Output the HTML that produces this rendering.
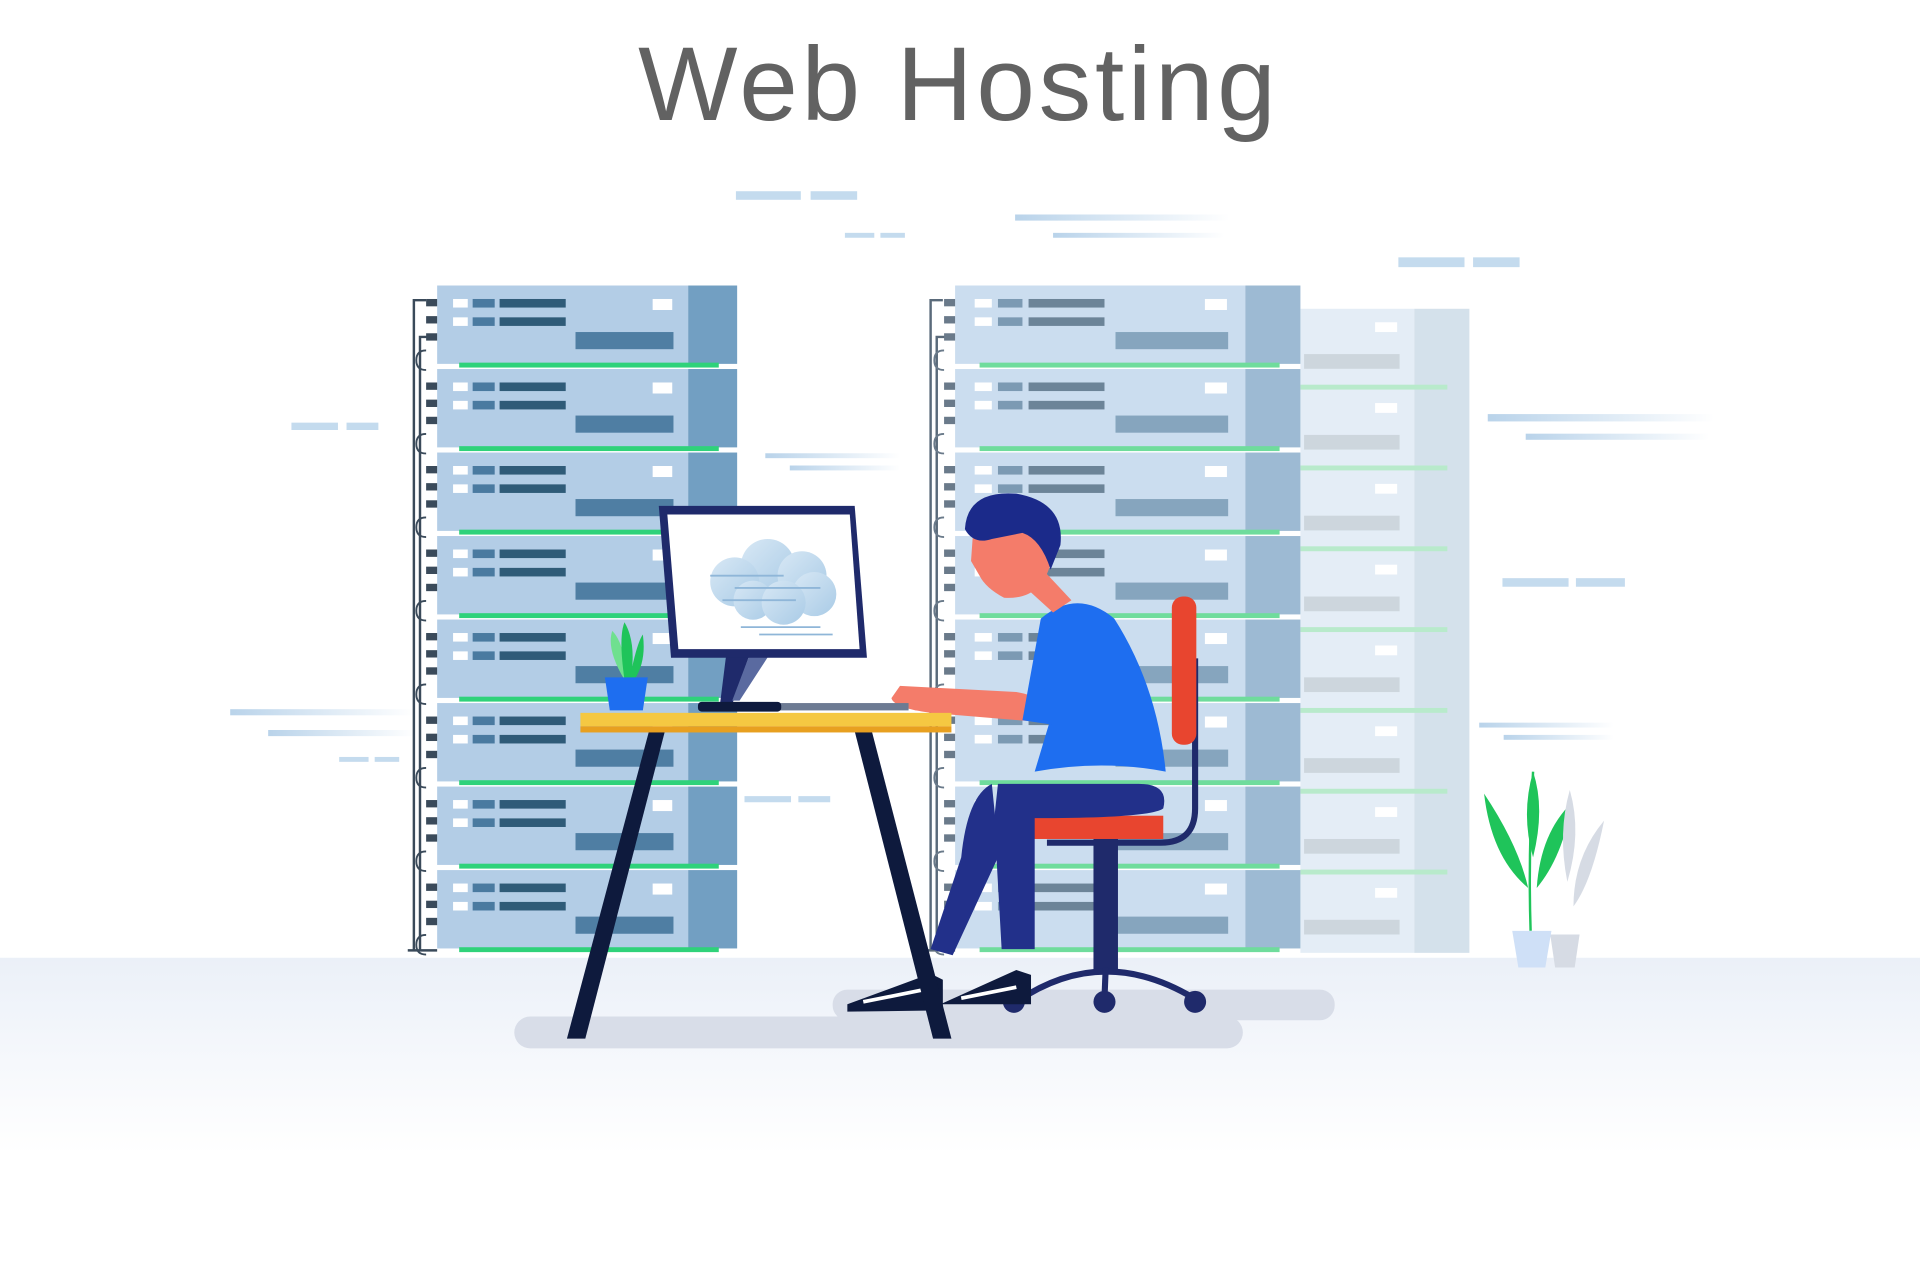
<!DOCTYPE html>
<html><head><meta charset="utf-8"><style>
html,body{margin:0;padding:0;background:#fff;}
svg{display:block;}
</style></head><body>
<svg width="1920" height="1280" viewBox="0 0 1568 1045" xmlns="http://www.w3.org/2000/svg">
<defs>
<linearGradient id="floor" x1="0" y1="0" x2="0" y2="1">
<stop offset="0" stop-color="#ebf0f8"/><stop offset="1" stop-color="#ffffff"/>
</linearGradient>
<linearGradient id="ln" x1="0" y1="0" x2="1" y2="0">
<stop offset="0" stop-color="#b9d3ea"/><stop offset="1" stop-color="#b9d3ea" stop-opacity="0"/>
</linearGradient>
<linearGradient id="cloud" x1="0" y1="0" x2="1" y2="1">
<stop offset="0" stop-color="#d8e8f5"/><stop offset="1" stop-color="#a9cbe6"/>
</linearGradient>
</defs>
<rect width="1568" height="1045" fill="#fff"/>
<rect x="0" y="782" width="1568" height="160" fill="url(#floor)"/>
<text x="783" y="98" text-anchor="middle" font-family="Liberation Sans, sans-serif" font-size="86" letter-spacing="3" fill="#626262">Web Hosting</text>

<!-- speed lines -->
<g fill="#c4dbee">
<rect x="601" y="156" width="53" height="7"/><rect x="662" y="156" width="38" height="7"/>
<rect x="690" y="190" width="24" height="4"/><rect x="719" y="190" width="20" height="4"/>
<rect x="238" y="345" width="38" height="6"/><rect x="283" y="345" width="26" height="6"/>
<rect x="1142" y="210" width="54" height="8"/><rect x="1203" y="210" width="38" height="8"/>
<rect x="1227" y="472" width="54" height="7"/><rect x="1287" y="472" width="40" height="7"/>
<rect x="608" y="650" width="38" height="5"/><rect x="652" y="650" width="26" height="5"/>
<rect x="277" y="618" width="24" height="4"/><rect x="306" y="618" width="20" height="4"/>
</g>
<g fill="url(#ln)">
<rect x="829" y="175" width="175" height="5"/><rect x="860" y="190" width="140" height="4"/>
<rect x="1215" y="338" width="185" height="6"/><rect x="1246" y="354" width="150" height="5"/>
<rect x="625" y="370" width="110" height="4"/><rect x="645" y="380" width="90" height="4"/>
<rect x="188" y="579" width="150" height="5"/><rect x="219" y="596" width="120" height="5"/>
<rect x="1208" y="590" width="110" height="4"/><rect x="1228" y="600" width="90" height="4"/>
</g>

<!-- background rack -->
<g>
<rect x="1062" y="252" width="93" height="526" fill="#e4edf6"/>
<rect x="1155" y="252" width="45" height="526" fill="#d4e1eb"/>
<g fill="#cdd6dd">
<rect x="1065" y="289" width="78" height="12"/><rect x="1065" y="355" width="78" height="12"/><rect x="1065" y="421" width="78" height="12"/><rect x="1065" y="487" width="78" height="12"/><rect x="1065" y="553" width="78" height="12"/><rect x="1065" y="619" width="78" height="12"/><rect x="1065" y="685" width="78" height="12"/><rect x="1065" y="751" width="78" height="12"/>
</g>
<g fill="#b8eacb">
<rect x="1062" y="314" width="120" height="4"/><rect x="1062" y="380" width="120" height="4"/><rect x="1062" y="446" width="120" height="4"/><rect x="1062" y="512" width="120" height="4"/><rect x="1062" y="578" width="120" height="4"/><rect x="1062" y="644" width="120" height="4"/><rect x="1062" y="710" width="120" height="4"/>
</g>
<g fill="#fff"><rect x="1123" y="263" width="18" height="8"/><rect x="1123" y="329" width="18" height="8"/><rect x="1123" y="395" width="18" height="8"/><rect x="1123" y="461" width="18" height="8"/><rect x="1123" y="527" width="18" height="8"/><rect x="1123" y="593" width="18" height="8"/><rect x="1123" y="659" width="18" height="8"/><rect x="1123" y="725" width="18" height="8"/></g>
</g>

<!-- left rack -->
<path d="M348 245 H338 V776 M352 275 H343 V776 M333 776 H357" stroke="#3a4a5a" stroke-width="2" fill="none"/>
<g id="lu">
<rect x="357" y="233" width="205" height="64" fill="#b3cde6"/>
<rect x="562" y="233" width="40" height="64" fill="#729fc2"/>
<rect x="375" y="296" width="212" height="4" fill="#2fd27a"/>
<rect x="370" y="244" width="12" height="7" fill="#fff"/><rect x="386" y="244" width="18" height="7" fill="#4a7aa0"/><rect x="408" y="244" width="54" height="7" fill="#2f5b78"/>
<rect x="370" y="259" width="12" height="7" fill="#fff"/><rect x="386" y="259" width="18" height="7" fill="#4a7aa0"/><rect x="408" y="259" width="54" height="7" fill="#2f5b78"/>
<rect x="533" y="244" width="16" height="9" fill="#fff"/>
<rect x="470" y="271" width="80" height="14" fill="#4f7ea3"/>
<rect x="348" y="244" width="9" height="6" fill="#3a4a5a"/><rect x="348" y="258" width="9" height="6" fill="#3a4a5a"/><rect x="348" y="272" width="9" height="6" fill="#3a4a5a"/>
<path d="M348 286 Q340 286 340 294 Q340 302 348 302" stroke="#3a4a5a" stroke-width="1.5" fill="none"/>
</g>
<use href="#lu" y="68.2"/><use href="#lu" y="136.4"/><use href="#lu" y="204.6"/><use href="#lu" y="272.8"/><use href="#lu" y="341"/><use href="#lu" y="409.2"/><use href="#lu" y="477.4"/>

<!-- right rack -->
<path d="M770 245 H760 V776 M774 275 H765 V776 M756 776 H780" stroke="#5a6a7a" stroke-width="2" fill="none"/>
<g id="ru">
<rect x="780" y="233" width="237" height="64" fill="#cbddef"/>
<rect x="1017" y="233" width="45" height="64" fill="#9dbad3"/>
<rect x="800" y="296" width="245" height="4" fill="#6fdc9c"/>
<rect x="796" y="244" width="14" height="7" fill="#fff"/><rect x="815" y="244" width="20" height="7" fill="#7c9ab3"/><rect x="840" y="244" width="62" height="7" fill="#6c8498"/>
<rect x="796" y="259" width="14" height="7" fill="#fff"/><rect x="815" y="259" width="20" height="7" fill="#7c9ab3"/><rect x="840" y="259" width="62" height="7" fill="#6c8498"/>
<rect x="984" y="244" width="18" height="9" fill="#fff"/>
<rect x="911" y="271" width="92" height="14" fill="#86a5be"/>
<rect x="771" y="244" width="9" height="6" fill="#6a7a8a"/><rect x="771" y="258" width="9" height="6" fill="#6a7a8a"/><rect x="771" y="272" width="9" height="6" fill="#6a7a8a"/>
<path d="M771 286 Q763 286 763 294 Q763 302 771 302" stroke="#6a7a8a" stroke-width="1.5" fill="none"/>
</g>
<use href="#ru" y="68.2"/><use href="#ru" y="136.4"/><use href="#ru" y="204.6"/><use href="#ru" y="272.8"/><use href="#ru" y="341"/><use href="#ru" y="409.2"/><use href="#ru" y="477.4"/>

<!-- shadows -->
<rect x="420" y="830" width="595" height="26" rx="13" fill="#d8dde8"/>
<rect x="680" y="808" width="410" height="25" rx="12" fill="#d8dde8"/>

<!-- chair -->
<path d="M958 540 H976 V660 Q976 688 948 688 H855" stroke="#1f2a6b" stroke-width="5" fill="none"/>
<rect x="957" y="487" width="20" height="121" rx="9" fill="#e8452f"/>
<rect x="840" y="666" width="110" height="19" fill="#e8452f"/>
<rect x="893" y="685" width="20" height="110" fill="#1f2a6b"/>
<path d="M830 818 Q900 770 975 815" stroke="#1f2a6b" stroke-width="5" fill="none"/>
<line x1="903" y1="790" x2="902" y2="815" stroke="#1f2a6b" stroke-width="5"/>
<circle cx="828" cy="818" r="9" fill="#1f2a6b"/><circle cx="902" cy="818" r="9" fill="#1f2a6b"/><circle cx="976" cy="818" r="9" fill="#1f2a6b"/>

<!-- person -->
<path d="M810 640 Q790 650 785 700 L760 775 L778 780 L815 700 L815 690 Z" fill="#22308a"/>
<path d="M815 640 H930 Q955 640 950 660 Q940 668 845 668 L845 775 H818 L812 668 Z" fill="#22308a"/>
<path d="M850 505 Q880 480 910 505 Q945 560 952 630 Q900 620 845 630 L860 580 L840 560 Z" fill="#1e6ef0"/>
<path d="M735 560 L830 565 Q860 570 855 590 L760 582 Q730 578 728 570 Z" fill="#f47c6a"/>
<path d="M840 560 L870 565 L862 592 L835 588 Z" fill="#1e6ef0"/>
<path d="M845 458 L875 490 L860 500 L838 480 Z" fill="#f47c6a"/>
<path d="M795 430 Q800 405 835 410 Q862 420 858 460 Q850 490 820 488 Q805 480 800 470 L793 458 Z" fill="#f47c6a"/>
<path d="M788 432 Q790 400 830 403 Q870 410 866 445 L858 465 Q850 440 835 435 L810 440 Q795 445 788 432 Z" fill="#1b2a8a"/>
<path d="M692 820 L760 795 L770 800 L770 825 L692 826 Z" fill="#0e1a3d"/>
<path d="M768 820 L830 792 L842 796 L842 820 Z" fill="#0e1a3d"/>
<path d="M705 818 L755 808" stroke="#fff" stroke-width="3"/><path d="M785 815 L830 806" stroke="#fff" stroke-width="3"/>

<!-- monitor -->
<rect x="636" y="574" width="106" height="6" fill="#6d7b93"/>
<polygon points="593,535 612,535 598,575 588,575" fill="#1f2a6b"/>
<polygon points="612,535 628,535 604,572 598,572" fill="#5a6aa0"/>
<rect x="570" y="573" width="68" height="8" rx="3" fill="#0e1a3d"/>
<polygon points="538,413 698,413 708,537 548,537" fill="#1f2a6b"/>
<polygon points="545,420 694,420 702,530 554,530" fill="#fff"/>
<g fill="url(#cloud)">
<circle cx="627" cy="462" r="22"/><circle cx="600" cy="475" r="20"/><circle cx="655" cy="470" r="20"/><circle cx="665" cy="485" r="18"/><circle cx="615" cy="490" r="16"/><circle cx="640" cy="492" r="18"/>
</g>
<g stroke="#8fb6d8" stroke-width="1.5"><line x1="580" y1="470" x2="640" y2="470"/><line x1="600" y1="480" x2="670" y2="480"/><line x1="590" y1="490" x2="650" y2="490"/><line x1="605" y1="512" x2="670" y2="512"/><line x1="620" y1="518" x2="680" y2="518"/></g>

<!-- desk -->
<polygon points="530,597 543,597 478,848 463,848" fill="#0e1a3d"/>
<polygon points="698,597 712,597 777,848 762,848" fill="#0e1a3d"/>
<rect x="474" y="582" width="303" height="11" fill="#f5c842"/>
<rect x="474" y="593" width="303" height="5" fill="#e8a020"/>

<!-- desk plant -->
<path d="M510 555 Q495 530 500 515 Q510 525 512 555 Z" fill="#6fe08f"/>
<path d="M510 555 Q505 520 510 508 Q520 525 515 555 Z" fill="#1fc45a"/>
<path d="M514 555 Q520 525 525 518 Q528 540 518 555 Z" fill="#1fc45a"/>
<polygon points="494,553 529,553 525,580 498,580" fill="#1e6ef0"/>

<!-- floor plants -->
<path d="M1250 760 Q1248 700 1252 630" stroke="#1fc45a" stroke-width="2" fill="none"/>
<path d="M1252 630 Q1262 660 1252 700 Q1242 665 1252 630 Z" fill="#1fc45a"/>
<path d="M1212 648 Q1240 690 1248 725 Q1218 700 1212 648 Z" fill="#1fc45a"/>
<path d="M1284 655 Q1276 700 1255 725 Q1258 680 1284 655 Z" fill="#1fc45a"/>
<path d="M1310 670 Q1300 720 1285 740 Q1285 700 1310 670 Z" fill="#d6dbe4"/>
<path d="M1282 645 Q1292 680 1280 720 Q1272 680 1282 645 Z" fill="#d6dbe4"/>
<polygon points="1266,763 1290,763 1286,790 1270,790" fill="#d6dbe4"/>
<polygon points="1235,760 1267,760 1262,790 1240,790" fill="#cfe0f7"/>
</svg>
</body></html>
